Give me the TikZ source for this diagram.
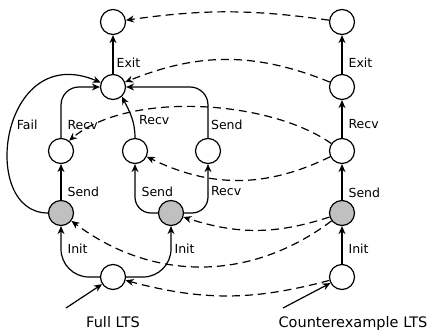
\documentclass[tikz,border=0pt]{standalone}
\usepackage{fontspec}
\setmainfont{DejaVu Sans}
\usetikzlibrary{arrows.meta}
\definecolor{lgrey}{HTML}{C0C0C0}
\begin{document}
\begin{tikzpicture}[x=1pt,y=1pt,line width=1.2pt,>={Stealth[length=8pt,width=7pt]},
  state/.style={circle, draw, fill=white, minimum size=25pt, inner sep=0pt},
  gstate/.style={state, fill=lgrey},
  lab/.style={font=\fontsize{12.5}{14}\selectfont, inner sep=1pt},
  ltsname/.style={font=\fontsize{14.5}{17}\selectfont, anchor=base, inner sep=0pt},
  sim/.style={->, dash pattern=on 8pt off 5pt}]
\useasboundingbox (0,0) rectangle (434,330);
% full LTS
\node[state] (f0) at (113,53){};
\node[gstate] (f1) at (61,117){};
\node[gstate] (f2) at (171,117){};
\node[state] (f3) at (61,179){};
\node[state] (f4) at (135,179){};
\node[state] (f5) at (208,179){};
\node[state] (f6) at (113,243){};
\node[state] (f7) at (113,308){};
\draw[->, rounded corners=28pt](f0.west) -| node[lab, pos=.78, right=5pt]{Init} (f1.south);
\draw[->, rounded corners=28pt](f0.east) -| node[lab, pos=.78, right=2pt]{Init} (f2.south);
\draw[->](f1) -- node[lab, pos=.22, right=5pt]{Send} (f3);
\draw[->, rounded corners=16pt](f2.west) -| node[lab, pos=.72, right=5pt]{Send} (f4.south);
\draw[->, rounded corners=16pt](f2.east) -| node[lab, pos=.72, right=1.5pt]{Recv} (f5.south);
\draw[->, rounded corners=18pt](f3.north) |- node[lab, pos=.13, right=5pt]{Recv} (f6.west);
\draw[->](f4.north) to[out=90, in=-63] node[lab, pos=.4, right=5pt]{Recv} (f6.-47);
\draw[->, rounded corners=18pt](f5.north) |- node[lab, pos=.13, right=1.5pt]{Send} (f6.east);
\draw[->](f1.west) .. controls (-22,117) and (0,290) .. node[lab, pos=.53, right=3pt]{Fail} (f6.160);
\draw[->](f6) -- node[lab, pos=.3, right=2pt]{Exit} (f7);
% counterexample LTS
\node[state] (c0) at (342,53){};
\node[gstate] (c1) at (342,117){};
\node[state] (c2) at (342,179){};
\node[state] (c3) at (342,243){};
\node[state] (c4) at (342,308){};
\draw[->](c0) -- node[lab, pos=.39, right=5pt]{Init} (c1);
\draw[->](c1) -- node[lab, pos=.21, right=5pt]{Send} (c2);
\draw[->](c2) -- node[lab, pos=.36, right=5pt]{Recv} (c3);
\draw[->](c3) -- node[lab, pos=.3, right=5pt]{Exit} (c4);
% simulation
\draw[sim](c4) to[bend right=8] (f7);
\draw[sim](c3) to[bend right=22] (f6);
\draw[sim](c2.145) to[out=145, in=40, looseness=.75] (f3.52);
\draw[sim](c2) to[bend left=26] (f4);
\draw[sim](c1) to[bend left=18] (f2);
\draw[sim](c1) to[bend left=37] (f1);
\draw[sim](c0) to[bend left=15] (f0);
% initial states
\coordinate (fullin) at (66,22);
\coordinate (cexin) at (283,22);
\draw[->](fullin) -- (f0);
\draw[->](cexin) -- (c0);
\node[ltsname] (fullcap) at (113,3){Full LTS};
\node[ltsname] (cexcap) at (353,3){Counterexample LTS};
\end{tikzpicture}
\end{document}
